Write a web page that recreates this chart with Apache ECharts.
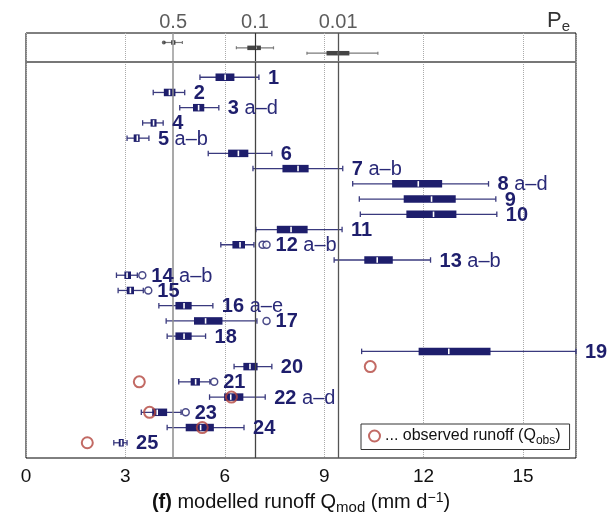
<!DOCTYPE html>
<html><head><meta charset="utf-8">
<script src="https://cdn.jsdelivr.net/npm/echarts@6/dist/echarts.min.js"></script>
<style>html,body{margin:0;padding:0;background:#fff}#c{width:611px;height:513px}</style>
</head><body><div id="c"></div>
<script>
// ---- data ----
const rows = [1,2,3,4,5,6,7,8,9,10,11,12,13,14,15,16,17,18,19,20,21,22,23,24,25];
const suffixes = ['','','a–d','','a–b','','a–b','a–d','','','','a–b','a–b','a–b','','a–e','','','','','','a–d','','',''];
const whiskerLow  = [5.25,3.84,4.64,3.52,3.05,5.50,6.85,9.86,10.06,10.09,6.94,5.88,9.30,2.73,2.78,4.01,4.23,4.26,10.13,6.28,4.61,5.54,3.48,4.26,2.65];
const q1          = [5.72,4.16,5.04,3.76,3.25,6.10,7.74,11.05,11.40,11.48,7.57,6.23,10.21,2.97,3.04,4.51,5.07,4.51,11.85,6.56,4.97,5.98,3.81,4.82,2.80];
const median      = [6.01,4.33,5.21,3.85,3.36,6.41,8.21,11.84,12.24,12.30,8.00,6.46,10.60,3.05,3.15,4.77,5.42,4.77,12.76,6.76,5.12,6.18,3.96,5.27,2.88];
const q3          = [6.29,4.51,5.38,3.94,3.43,6.71,8.53,12.56,12.97,12.99,8.50,6.61,11.07,3.17,3.26,5.00,5.93,5.00,14.02,6.99,5.25,6.56,4.26,5.67,2.95];
const whiskerHigh = [7.03,4.79,5.82,4.14,3.71,7.42,9.56,13.96,14.18,14.21,9.54,6.88,12.21,3.36,3.54,5.64,6.97,5.42,16.6,7.42,5.55,7.22,4.68,6.58,3.05];
const outlierRows   = [12,12,14,15,17,21,23];
const outlierValues = [7.14,7.26,3.51,3.69,7.26,5.68,4.82];
const observedRows   = [20,21,22,23,24,25];
const observedValues = [10.39,3.42,6.20,3.73,5.32,1.85];

const peRows = [1,2,3];
const peLow  = [4.18,6.35,8.48];
const peQ1   = [4.38,6.68,9.07];
const peMed  = [4.45,6.94,9.43];
const peQ3   = [4.51,7.09,9.76];
const peHigh = [4.72,7.47,10.62];
const peOutlierRows = [1];
const peOutlierValues = [4.16];
const peThresholds = [4.44,6.91,9.42];
const peLabels = ['0.5','0.1','0.01'];
const xTicks = [0,3,6,9,12,15];

// ---- chart ----
const FONT = '"Liberation Sans", Arial, Helvetica, sans-serif';
const NAVY = '#1e1e6c';
const X_MIN = 0, X_MAX = 16.6;

function boxRender(st) {
  return function (params, api) {
    const y = api.value(0);
    const lo = api.coord([api.value(1), y]);
    const a = api.coord([api.value(2), y]);
    const m = api.coord([api.value(3), y]);
    const b = api.coord([api.value(4), y]);
    const hi = api.coord([api.value(5), y]);
    const py = lo[1], h = st.boxH, c = st.capH;
    const ls = {stroke: st.whisker, lineWidth: st.lw};
    return {type: 'group', children: [
      {type: 'line', shape: {x1: lo[0], y1: py, x2: hi[0], y2: py}, style: ls},
      {type: 'line', shape: {x1: lo[0], y1: py - c/2, x2: lo[0], y2: py + c/2}, style: ls},
      {type: 'line', shape: {x1: hi[0], y1: py - c/2, x2: hi[0], y2: py + c/2}, style: ls},
      {type: 'rect', shape: {x: a[0], y: py - h/2, width: b[0] - a[0], height: h}, style: {fill: st.box}},
      {type: 'line', shape: {x1: m[0], y1: py - h/2 + 1, x2: m[0], y2: py + h/2 - 1}, style: {stroke: '#fff', lineWidth: st.medW}}
    ]};
  };
}

const mainData = rows.map((r, i) => [r, whiskerLow[i], q1[i], median[i], q3[i], whiskerHigh[i]]);
const peData = peRows.map((r, i) => [r, peLow[i], peQ1[i], peMed[i], peQ3[i], peHigh[i]]);
const labelData = rows.map((r, i) => {
  let end = whiskerHigh[i];
  outlierRows.forEach((orow, j) => { if (orow === r) end = Math.max(end, outlierValues[j]); });
  return [r, end, i];
});

const chart = echarts.init(document.getElementById('c'));
chart.setOption({
  animation: false,
  textStyle: {fontFamily: FONT},
  title: {
    text: 'P{e|e}', right: 36, top: 2,
    textStyle: {fontSize: 22, color: '#333', fontWeight: 'normal', fontFamily: FONT,
      rich: {e: {fontSize: 15, color: '#333', fontFamily: FONT, padding: [12, 0, 0, 0]}}}
  },
  legend: {
    data: [{name: 'obs', icon: 'circle', itemStyle: {color: '#fff', borderColor: '#b3453d', borderWidth: 2}}],
    left: 361, top: 424, orient: 'horizontal',
    itemWidth: 11, itemHeight: 11,
    backgroundColor: '#fff', borderColor: '#333', borderWidth: 1, borderRadius: 0,
    padding: [4, 9, 3, 7],
    formatter: () => '... observed runoff (Q{sub|obs})',
    textStyle: {fontSize: 16, color: '#111', fontFamily: FONT,
      rich: {sub: {fontSize: 12, color: '#111', fontFamily: FONT, padding: [9, 0, 0, 0]}}}
  },
  grid: [
    {left: 26, top: 33, width: 550, height: 29, show: true, borderColor: '#000', borderWidth: 1, outerBoundsMode: 'none', containLabel: false},
    {left: 26, top: 62, width: 550, height: 396, show: true, borderColor: '#000', borderWidth: 1, outerBoundsMode: 'none', containLabel: false}
  ],
  xAxis: [
    {gridIndex: 0, type: 'value', min: X_MIN, max: X_MAX, interval: 3,
      axisLine: {show: false}, axisTick: {show: false}, axisLabel: {show: false},
      splitLine: {show: true, lineStyle: {type: 'dotted', color: '#aaa', width: 1}}},
    {gridIndex: 1, type: 'value', min: X_MIN, max: X_MAX, interval: 3,
      axisLine: {show: false}, axisTick: {show: false},
      axisLabel: {fontSize: 19, color: '#111', margin: 9, showMaxLabel: false, fontFamily: FONT,
        formatter: v => (xTicks.indexOf(v) >= 0 ? String(v) : '')},
      splitLine: {show: true, lineStyle: {type: 'dotted', color: '#aaa', width: 1}},
      name: '{b|(f)} modelled runoff Q{sub|mod} (mm d{sup|−1})',
      nameLocation: 'middle', nameGap: 28,
      nameTextStyle: {fontSize: 20, color: '#111', fontFamily: FONT,
        rich: {
          b: {fontSize: 20, fontWeight: 'bold', color: '#111', fontFamily: FONT},
          sub: {fontSize: 15, color: '#111', fontFamily: FONT, padding: [11, 0, 0, 0]},
          sup: {fontSize: 14, color: '#111', fontFamily: FONT, padding: [0, 0, 9, 0]}
        }}}
  ],
  yAxis: [
    {gridIndex: 0, type: 'value', min: -0.77, max: 4.64, inverse: true, show: false},
    {gridIndex: 1, type: 'value', min: 0, max: 26, inverse: true, show: false}
  ],
  series: [
    {type: 'custom', xAxisIndex: 0, yAxisIndex: 0, data: peData,
      encode: {x: [1, 2, 3, 4, 5], y: 0},
      renderItem: boxRender({boxH: 4.5, capH: 3, whisker: '#7a7a7a', lw: 1.2, box: '#444', medW: 1.2}),
      markLine: {silent: true, symbol: 'none', label: {show: false},
        data: [
          {xAxis: peThresholds[0], lineStyle: {color: '#999', width: 1.5, type: 'solid'}},
          {xAxis: peThresholds[1], lineStyle: {color: '#333', width: 1.2, type: 'solid'}},
          {xAxis: peThresholds[2], lineStyle: {color: '#555', width: 1.3, type: 'solid'}},
          {yAxis: 4.64, lineStyle: {color: '#777', width: 2, type: 'solid'}}
        ]},
      z: 3},
    {type: 'scatter', xAxisIndex: 0, yAxisIndex: 0, symbol: 'circle', symbolSize: 4,
      itemStyle: {color: '#444'}, data: peOutlierRows.map((r, i) => [peOutlierValues[i], r]), z: 4},
    {type: 'scatter', xAxisIndex: 0, yAxisIndex: 0, symbolSize: 0, silent: true,
      data: peThresholds.map((v, i) => ({value: [v, -0.77], name: peLabels[i]})),
      label: {show: true, position: 'top', distance: 1, formatter: p => p.name,
        fontSize: 20, color: '#333', fontFamily: FONT}},
    {type: 'custom', xAxisIndex: 1, yAxisIndex: 1, data: mainData,
      encode: {x: [1, 2, 3, 4, 5], y: 0},
      renderItem: boxRender({boxH: 7.5, capH: 5.5, whisker: '#3a3a7e', lw: 1.3, box: NAVY, medW: 1.6}),
      markLine: {silent: true, symbol: 'none', label: {show: false},
        data: [
          {xAxis: peThresholds[0], lineStyle: {color: '#8c8c8c', width: 1.5, type: 'solid'}},
          {xAxis: peThresholds[1], lineStyle: {color: '#444', width: 1.3, type: 'solid'}},
          {xAxis: peThresholds[2], lineStyle: {color: '#555', width: 1.3, type: 'solid'}}
        ]},
      z: 3},
    {type: 'scatter', xAxisIndex: 1, yAxisIndex: 1, symbol: 'circle', symbolSize: 7,
      itemStyle: {color: '#fff', borderColor: NAVY, borderWidth: 1.5},
      data: outlierRows.map((r, i) => [outlierValues[i], r]), z: 4},
    {type: 'custom', xAxisIndex: 1, yAxisIndex: 1, data: labelData, encode: {x: 1, y: 0},
      clip: false,
      renderItem: function (params, api) {
        const p = api.coord([api.value(1), api.value(0)]);
        const i = api.value(2);
        const suf = suffixes[i];
        const txt = '{n|' + rows[i] + '}' + (suf ? '{s| ' + suf + '}' : '');
        return {type: 'text', x: p[0] + 9, y: p[1] + 1, style: {
          text: txt, align: 'left', verticalAlign: 'middle',
          rich: {
            n: {fontSize: 20, fontWeight: 'bold', fill: NAVY, color: NAVY, fontFamily: FONT},
            s: {fontSize: 20, fill: '#2a2a78', color: '#2a2a78', fontFamily: FONT}
          }}};
      }, z: 5},
    {type: 'scatter', name: 'obs', xAxisIndex: 1, yAxisIndex: 1, symbol: 'circle', symbolSize: 11,
      itemStyle: {color: 'rgba(255,255,255,0)', borderColor: '#b3453d', borderWidth: 2},
      data: observedRows.map((r, i) => [observedValues[i], r]), z: 6}
  ]
});
</script>
</body></html>
